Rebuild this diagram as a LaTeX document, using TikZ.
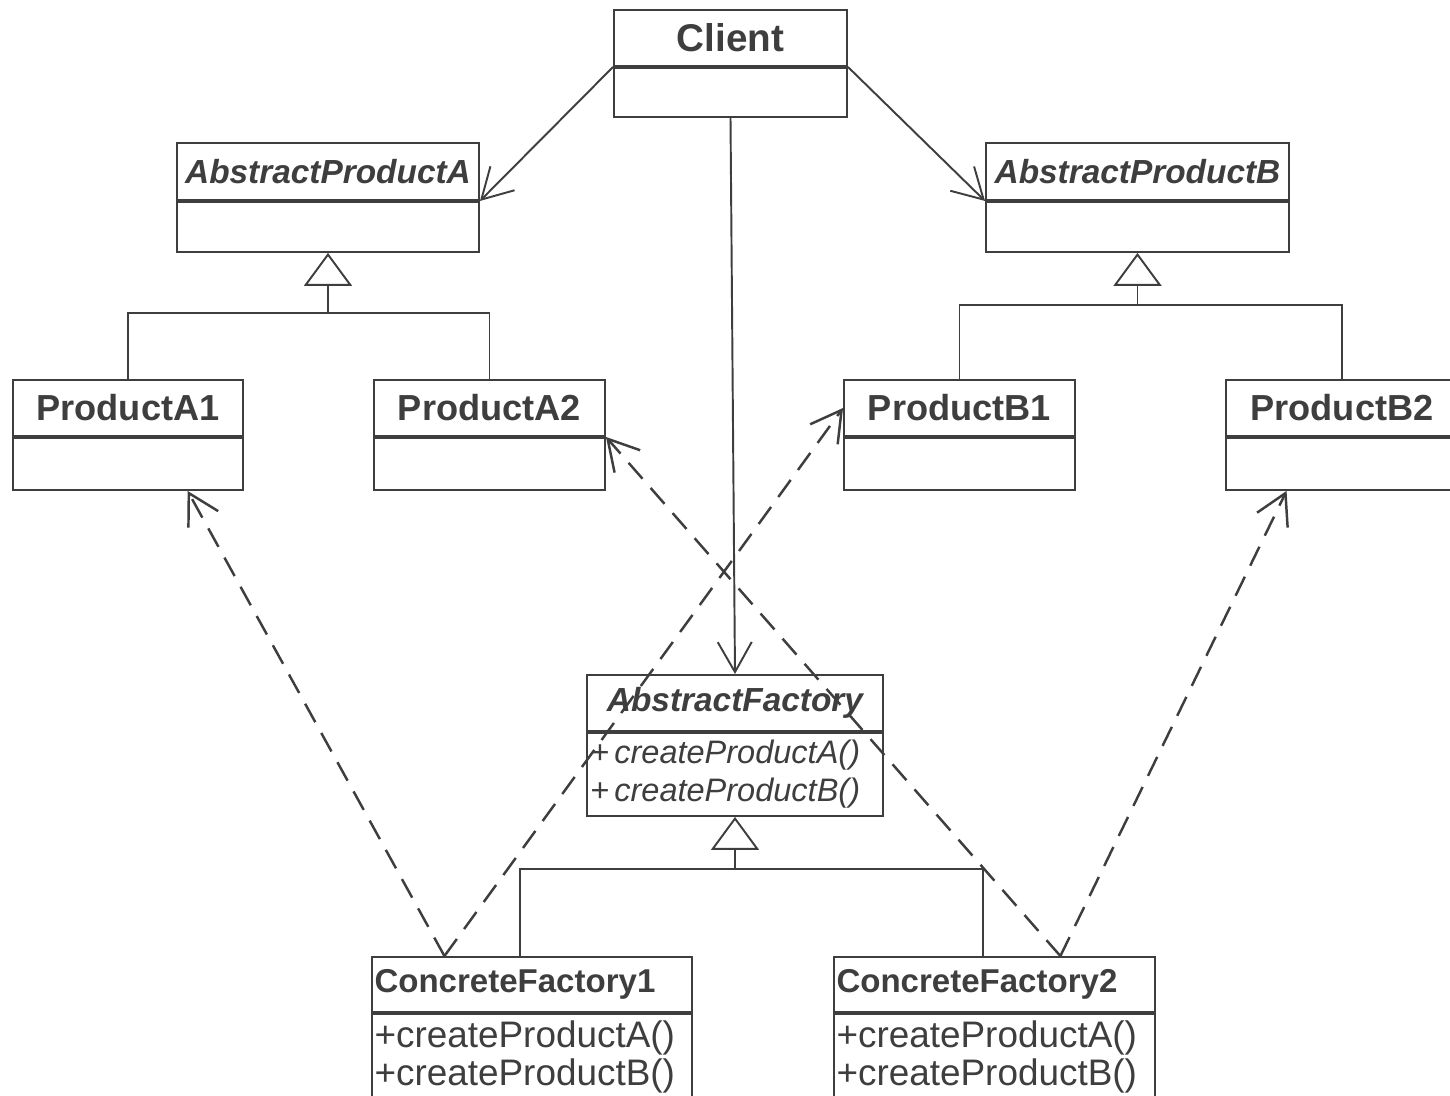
\documentclass[tikz,border=0pt]{standalone}
\usepackage{fontspec}
\setmainfont{Liberation Sans}
\usetikzlibrary{arrows.meta,positioning,calc}
\definecolor{umlgray}{HTML}{3E3E3E}

\begin{document}
\begin{tikzpicture}[>={Straight Barb[length=6mm,width=6.8mm]},line width=1.1pt,color=umlgray]

	\tikzstyle{head}=[rectangle,draw,inner sep=0pt,font=\fontsize{20.6}{22}\selectfont\bfseries]
	\tikzstyle{abstract}=[head,font=\fontsize{19}{22}\selectfont\bfseries\itshape]
	\tikzstyle{concrete}=[head,align=left,font=\fontsize{18.8}{22}\selectfont\bfseries]
	\tikzstyle{body}=[rectangle,draw,inner sep=0pt,align=left,font=\fontsize{21}{21.6}\selectfont]
	\tikzstyle{realize}=[->,line width=1.4pt,dash pattern=on 12pt off 7pt]
	\tikzstyle{inherit}=[-{Triangle[open,length=6.6mm,width=9.6mm]}]

	\useasboundingbox (0,0) rectangle (29,-21.92);

	% client
	\node [head,minimum width=4.66cm,minimum height=1.12cm,font=\fontsize{22}{22}\selectfont\bfseries] (client) at (14.61,-0.76) {Client};
	\node [body,minimum width=4.66cm,minimum height=0.98cm] (clientb) [below=0pt of client] {};

	% abstract products
	\node [abstract,minimum width=6.04cm,minimum height=1.14cm] (apa) at (6.56,-3.43) {AbstractProductA};
	\node [body,minimum width=6.04cm,minimum height=1.0cm] (apab) [below=0pt of apa] {};
	\node [abstract,minimum width=6.06cm,minimum height=1.14cm] (apb) at (22.75,-3.43) {AbstractProductB};
	\node [body,minimum width=6.06cm,minimum height=1.0cm] (apbb) [below=0pt of apb] {};

	% concrete products
	\node [head,minimum width=4.6cm,minimum height=1.12cm] (pa1) at (2.56,-8.16) {ProductA1};
	\node [body,minimum width=4.6cm,minimum height=1.04cm] (pa1b) [below=0pt of pa1] {};
	\node [head,minimum width=4.62cm,minimum height=1.12cm] (pa2) at (9.79,-8.16) {ProductA2};
	\node [body,minimum width=4.62cm,minimum height=1.04cm] (pa2b) [below=0pt of pa2] {};
	\node [head,minimum width=4.62cm,minimum height=1.12cm] (pb1) at (19.19,-8.16) {ProductB1};
	\node [body,minimum width=4.62cm,minimum height=1.04cm] (pb1b) [below=0pt of pb1] {};
	\node [head,minimum width=4.64cm,minimum height=1.12cm] (pb2) at (26.84,-8.16) {ProductB2};
	\node [body,minimum width=4.64cm,minimum height=1.04cm] (pb2b) [below=0pt of pb2] {};

	% factories
	\node [abstract,minimum width=5.92cm,minimum height=1.12cm] (af) at (14.7,-14.06) {AbstractFactory};
	\node [body,text width=5.8cm,minimum width=5.92cm,minimum height=1.66cm,
		font=\fontsize{18.5}{21.6}\selectfont\itshape] (afb) [below=0pt of af]
		{+\,createProductA()\\+\,createProductB()};

	\node [concrete,text width=6.3cm,minimum width=6.4cm,minimum height=1.1cm] (cf1) at (10.64,-19.69) {ConcreteFactory1};
	\node [body,text width=6.3cm,minimum width=6.4cm,minimum height=1.72cm] (cf1b) [below=0pt of cf1]
		{+createProductA()\\+createProductB()};
	\node [concrete,text width=6.32cm,minimum width=6.42cm,minimum height=1.1cm] (cf2) at (19.89,-19.69) {ConcreteFactory2};
	\node [body,text width=6.32cm,minimum width=6.42cm,minimum height=1.72cm] (cf2b) [below=0pt of cf2]
		{+createProductA()\\+createProductB()};

	% associations from the client
	\draw [->] (client.south west) -- (apa.south east);
	\draw [->] (client.south east) -- (apb.south west);
	\draw [->] (clientb.south) -- (af.north);

	% generalizations
	\coordinate (ajoin) at ($(apab.south)+(0,-1.2)$);
	\draw [inherit] (ajoin) -- (apab.south);
	\draw (pa1.north) |- (ajoin) -| (pa2.north);

	\coordinate (bjoin) at ($(apbb.south)+(0,-1.04)$);
	\draw [inherit] (bjoin) -- (apbb.south);
	\draw (pb1.north) |- (bjoin) -| (pb2.north);

	\coordinate (fjoin) at ($(afb.south)+(0,-1.04)$);
	\draw [inherit] (fjoin) -- (afb.south);
	\draw ([xshift=-2.4mm]cf1.north) |- (fjoin) -| ([xshift=-2.3mm]cf2.north);

	% creation dependencies
	\coordinate (cf1top) at ($(cf1.north west)!0.228!(cf1.north east)$);
	\coordinate (cf2top) at ($(cf2.north west)!0.704!(cf2.north east)$);
	\draw [realize] (cf1top) -- ($(pa1b.south west)!0.757!(pa1b.south east)$);
	\draw [realize] (cf1top) -- (pb1.west);
	\draw [realize] (cf2top) -- (pa2.south east);
	\draw [realize] (cf2top) -- ($(pb2b.south west)!0.263!(pb2b.south east)$);

\end{tikzpicture}
\end{document}
